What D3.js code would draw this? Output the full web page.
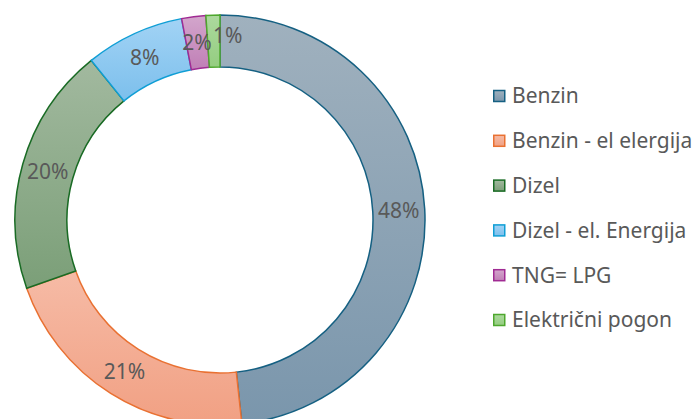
<!DOCTYPE html>
<html>
<head>
<meta charset="utf-8">
<script src="https://cdn.jsdelivr.net/npm/d3@7"></script>
<style>
  body { margin: 0; background: #fff; }
  text { font-family: "Noto Sans", sans-serif; }
</style>
</head>
<body>
<div id="chart"></div>
<script>
var categories = ['Benzin', 'Benzin - el elergija', 'Dizel', 'Dizel - el. Energija', 'TNG= LPG', 'Električni pogon'];
var values = [48.3, 21.3, 19.6, 7.8, 1.9, 1.1];
var strokeColors = ['#156082', '#e97132', '#196b24', '#0f9ed5', '#a02b93', '#4ea72e'];
var lightColors = ['#a0b1be', '#f6bba6', '#a2b99f', '#a2d3f5', '#d3a6cc', '#acd99e'];
var darkColors = ['#7a96ac', '#f1a083', '#7b9f78', '#7cbfec', '#c07fb6', '#94cd80'];

var w = 700, h = 419;
var cx = 220, cy = 220,
    outerR = 205, innerR = 153;

function translation(x, y) {
  return 'translate(' + x + ',' + y + ')';
}

var svg = d3.select('#chart').append('svg')
  .attr('width', w)
  .attr('height', h);

var data = categories.map(function(c, i) {
  return { name: c, value: values[i], i: i };
});
var total = d3.sum(values);

// one vertical gradient per slice
var defs = svg.append('defs');
data.forEach(function(d) {
  var g = defs.append('linearGradient')
    .attr('id', 'grad' + d.i)
    .attr('x1', 0).attr('y1', 0)
    .attr('x2', 0).attr('y2', 1);
  g.append('stop').attr('offset', '0%').attr('stop-color', lightColors[d.i]);
  g.append('stop').attr('offset', '100%').attr('stop-color', darkColors[d.i]);
});

var pie = d3.pie()
  .sort(null)
  .value(function(d) { return d.value; });

var arc = d3.arc()
  .innerRadius(innerR)
  .outerRadius(outerR);

var donut = svg.append('g')
  .attr('transform', translation(cx, cy));

var arcs = pie(data);

donut.selectAll('path.slice')
  .data(arcs)
  .enter().append('path')
    .attr('class', 'slice')
    .attr('d', arc)
    .attr('fill', function(d) { return 'url(#grad' + d.data.i + ')'; })
    .attr('stroke', function(d) { return strokeColors[d.data.i]; })
    .attr('stroke-width', 1.5);

// tiny slices get their label pushed aside a bit, like the original
donut.selectAll('text.label')
  .data(arcs)
  .enter().append('text')
    .attr('class', 'label')
    .attr('transform', function(d) { return 'translate(' + arc.centroid(d) + ')'; })
    .attr('text-anchor', 'middle')
    .attr('dx', function(d) { return d.data.value / total < 0.015 ? 14 : 0; })
    .attr('dy', function(d) { return d.data.value / total < 0.015 ? '0.1em' : '0.35em'; })
    .attr('fill', '#595959')
    .style('font-size', '21px')
    .text(function(d) { return Math.round(d.data.value / total * 100) + '%'; });

// LEGEND
var legendY = d3.scalePoint()
  .domain(categories)
  .range([96, 320]);

var legend = svg.append('g')
  .attr('class', 'legend');

var items = legend.selectAll('g')
  .data(data)
  .enter().append('g')
    .attr('transform', function(d) { return translation(493, legendY(d.name)); });

items.append('rect')
  .attr('x', 0.75)
  .attr('y', -5.5)
  .attr('width', 11)
  .attr('height', 11)
  .attr('fill', function(d) { return 'url(#grad' + d.i + ')'; })
  .attr('stroke', function(d) { return strokeColors[d.i]; })
  .attr('stroke-width', 1.5);

items.append('text')
  .attr('x', 19)
  .attr('dy', '0.35em')
  .attr('fill', '#595959')
  .style('font-size', '21px')
  .text(function(d) { return d.name; });
</script>
</body>
</html>
